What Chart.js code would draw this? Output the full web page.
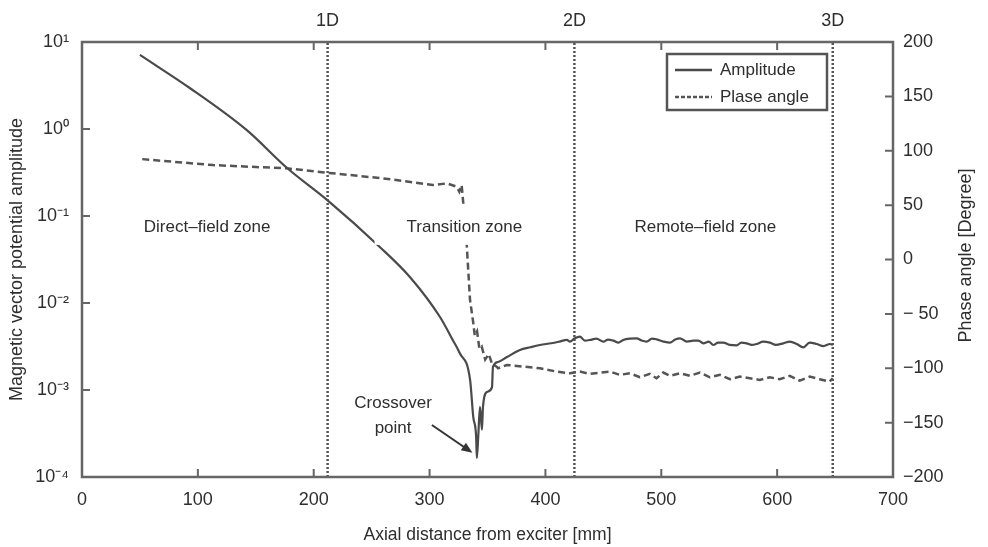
<!DOCTYPE html>
<html>
<head>
<meta charset="utf-8">
<title>Amplitude and phase along the tube axis</title>
<script src="https://cdn.jsdelivr.net/npm/chart.js@4.4.1/dist/chart.umd.min.js"></script>
<style>
  html, body { margin: 0; padding: 0; background: #fff; }
</style>
</head>
<body>
<canvas id="chart" width="988" height="547"></canvas>
<script>
// axial distance [mm] and vector potential amplitude
const ampX = [50, 93, 142, 177, 211.5, 257, 283, 309, 320, 326, 335, 337.7, 340.2, 340.8,
  342, 343.5, 345.2, 346.1, 349.6, 353.9, 354.7, 359.1, 366.8, 378, 387, 395.3, 405, 412, 418.6,
  421.2, 425, 429.8, 434, 438.5, 444, 450, 454, 458.6, 463, 467.2, 473, 478.8, 483, 487.4, 492,
  496, 502, 507.5, 512, 516.1, 522, 527.6, 532, 536.3, 541, 544.9, 549, 553.5, 559, 565.1, 569,
  573.7, 578, 582.3, 588, 593.8, 599, 605.3, 611, 616.9, 622.6, 628, 634.1, 640, 645.6, 648];
const ampY = [7.1, 2.96, 0.975, 0.356, 0.153, 0.0441, 0.0199, 0.0069, 0.00376, 0.00266, 0.0013,
  0.00049, 0.000288, 0.000165, 0.00029, 0.00064, 0.00035, 0.00064, 0.00095, 0.00108, 0.00184,
  0.0021, 0.00239, 0.00288, 0.0031, 0.00329, 0.00345, 0.0036, 0.00376,
  0.0036, 0.0039, 0.0041, 0.0037, 0.00376, 0.0039, 0.0036, 0.0038, 0.00369, 0.0035, 0.00376,
  0.0039, 0.00393, 0.0037, 0.0036, 0.0039, 0.00382, 0.0036, 0.0035, 0.0038, 0.00393, 0.0036,
  0.00369, 0.0037, 0.00344, 0.0036, 0.00329, 0.0035, 0.0035, 0.0033, 0.00326, 0.0035,
  0.00344, 0.0033, 0.00338, 0.0036, 0.0035, 0.0033, 0.00344, 0.0036, 0.00338, 0.00309, 0.0035,
  0.00338, 0.0032, 0.00338, 0.0033];

// axial distance [mm] and phase angle [deg]
const phaseX = [52, 113, 177, 211.5, 260, 303, 315, 323.4, 325.7, 327.7, 329.1, 332, 334.9,
  337.7, 339, 341, 343, 345, 348, 351, 354, 357.9, 359.2, 366.6, 381, 395.3, 409.7,
  421.2, 429.8, 438.5, 447.1, 455.7, 464.3, 472.9, 481.5, 490.1, 495.9, 501.7, 507.5, 516.1,
  524.7, 533.3, 541.9, 550.6, 559.2, 567.8, 576.4, 585, 593.6, 602.2, 610.9, 619.5, 628.1,
  636.7, 645.3, 648];
const phaseY = [92.3, 86.8, 83.8, 79.8, 74.6, 68.5, 70, 66.9, 62.3, 68.5, 51.6, 14.9, -37.2,
  -58, -70, -66, -82, -80, -92, -87, -96, -98.5, -100, -97, -98.5, -100, -103.1,
  -104.6, -103.1, -105.2, -104, -103.1, -106.1, -104.6, -108.3, -105.2, -109.2, -104, -107,
  -104.6, -107, -104, -108.3, -106.1, -110.1, -107.7, -109.2, -110.7, -108.3, -110.1, -107,
  -111.4, -107.7, -110.1, -112.3, -109.2];

// reference distances 1D, 2D, 3D
const markerX = [212, 425, 648];
const markerLabels = ['1D', '2D', '3D'];

const xTicks = [0, 100, 200, 300, 400, 500, 600, 700];
const logTicks = [1e-4, 1e-3, 1e-2, 1e-1, 1, 10];
const logLabels = ['10⁻⁴', '10⁻³', '10⁻²', '10⁻¹', '10⁰', '10¹'];
const phaseTicks = [-200, -150, -100, -50, 0, 50, 100, 150, 200];
const phaseLabels = ['−200', '−150', '−100', '− 50', '0', '50', '100', '150', '200'];

const zones = ['Direct–field zone', 'Transition zone', 'Remote–field zone'];
const zoneX = [108, 330, 538];
const zoneLevel = 30;          // phase-axis height of the zone captions

const FONT = '"Liberation Sans", Arial, sans-serif';
const INK = '#2e2e2e';
Chart.defaults.font.family = FONT;
Chart.defaults.color = INK;

function fixTicks(values) {
  return scale => { scale.ticks = values.map(v => ({ value: v })); };
}

const annotate = {
  id: 'annotate',
  beforeDraw(chart) {
    const ctx = chart.ctx;
    ctx.save();
    ctx.fillStyle = '#fff';
    ctx.fillRect(0, 0, chart.width, chart.height);
    ctx.restore();
  },
  afterDatasetsDraw(chart) {
    const { ctx, chartArea: a, scales } = chart;
    const sx = scales.x, sy = scales.y, sp = scales.y1;
    ctx.save();

    // zone captions sit on opaque boxes
    ctx.font = '17px ' + FONT;
    ctx.textAlign = 'center';
    ctx.textBaseline = 'middle';
    zones.forEach((t, i) => {
      const cx = sx.getPixelForValue(zoneX[i]);
      const cy = sp.getPixelForValue(zoneLevel);
      const w = ctx.measureText(t).width;
      ctx.fillStyle = '#fff';
      ctx.fillRect(cx - w / 2 - 32, cy - 22, w + 64, 40);
      ctx.fillStyle = INK;
      ctx.fillText(t, cx, cy);
    });

    // frame
    ctx.strokeStyle = '#666';
    ctx.lineWidth = 2.5;
    ctx.strokeRect(a.left, a.top, a.right - a.left, a.bottom - a.top);

    // inward tick marks
    const tl = 8;
    ctx.lineWidth = 2;
    ctx.beginPath();
    xTicks.slice(1, -1).forEach(v => {
      const px = sx.getPixelForValue(v);
      ctx.moveTo(px, a.bottom); ctx.lineTo(px, a.bottom - tl);
      ctx.moveTo(px, a.top); ctx.lineTo(px, a.top + tl);
    });
    logTicks.slice(1, -1).forEach(v => {
      const py = sy.getPixelForValue(v);
      ctx.moveTo(a.left, py); ctx.lineTo(a.left + tl, py);
    });
    phaseTicks.slice(1, -1).forEach(v => {
      const py = sp.getPixelForValue(v);
      ctx.moveTo(a.right, py); ctx.lineTo(a.right - tl, py);
    });
    ctx.stroke();

    // legend box
    const ds = chart.data.datasets;
    const lx = a.right - 226, ly = a.top + 12, lw = 160, lh = 56;
    ctx.fillStyle = '#fff';
    ctx.fillRect(lx, ly, lw, lh);
    ctx.strokeStyle = '#555';
    ctx.lineWidth = 2.5;
    ctx.strokeRect(lx, ly, lw, lh);
    ctx.font = '17px ' + FONT;
    ctx.textAlign = 'left';
    [0, 1].forEach(i => {
      const yy = ly + 16 + i * 27;
      ctx.strokeStyle = ds[i].borderColor;
      ctx.lineWidth = 2.5;
      ctx.setLineDash(i === 1 ? [4, 2] : []);
      ctx.beginPath();
      ctx.moveTo(lx + 8, yy); ctx.lineTo(lx + 45, yy);
      ctx.stroke();
      ctx.setLineDash([]);
      ctx.fillStyle = INK;
      ctx.fillText(ds[i].label, lx + 53, yy);
    });

    // crossover callout
    ctx.textAlign = 'center';
    const tx = sx.getPixelForValue(268.5);
    ctx.fillText('Crossover', tx, sy.getPixelForValue(7.1e-4));
    ctx.fillText('point', tx, sy.getPixelForValue(3.66e-4));
    const x0 = sx.getPixelForValue(302), y0 = sy.getPixelForValue(3.96e-4);
    const x1 = sx.getPixelForValue(337), y1 = sy.getPixelForValue(1.9e-4);
    const ang = Math.atan2(y1 - y0, x1 - x0);
    ctx.strokeStyle = '#333';
    ctx.lineWidth = 2;
    ctx.beginPath();
    ctx.moveTo(x0, y0);
    ctx.lineTo(x1 - 8 * Math.cos(ang), y1 - 8 * Math.sin(ang));
    ctx.stroke();
    ctx.fillStyle = '#333';
    ctx.beginPath();
    ctx.moveTo(x1, y1);
    ctx.lineTo(x1 - 11 * Math.cos(ang) + 4.5 * Math.sin(ang), y1 - 11 * Math.sin(ang) - 4.5 * Math.cos(ang));
    ctx.lineTo(x1 - 11 * Math.cos(ang) - 4.5 * Math.sin(ang), y1 - 11 * Math.sin(ang) + 4.5 * Math.cos(ang));
    ctx.closePath();
    ctx.fill();

    // right axis title, reading upwards
    ctx.translate(966, (a.top + a.bottom) / 2 - 4);
    ctx.rotate(-Math.PI / 2);
    ctx.font = '18px ' + FONT;
    ctx.fillStyle = INK;
    ctx.textBaseline = 'middle';
    ctx.fillText('Phase angle [Degree]', 0, 0);
    ctx.restore();
  }
};

const markerSets = markerX.map(v => ({
  label: 'marker',
  data: [{ x: v, y: -200 }, { x: v, y: 200 }],
  yAxisID: 'y1',
  borderColor: '#555',
  borderWidth: 2.5,
  borderDash: [2, 2],
  pointRadius: 0
}));

new Chart(document.getElementById('chart'), {
  type: 'line',
  data: {
    datasets: [
      {
        label: 'Amplitude',
        data: ampX.map((x, i) => ({ x, y: ampY[i] })),
        yAxisID: 'y',
        borderColor: '#4a4a4a',
        borderWidth: 2.2,
        pointRadius: 0,
        cubicInterpolationMode: 'monotone'
      },
      {
        label: 'Plase angle',
        data: phaseX.map((x, i) => ({ x, y: phaseY[i] })),
        yAxisID: 'y1',
        borderColor: '#555',
        borderWidth: 2.5,
        borderDash: [7, 4],
        pointRadius: 0,
        tension: 0
      },
      ...markerSets
    ]
  },
  options: {
    responsive: false,
    devicePixelRatio: 1,
    animation: false,
    layout: { padding: 0 },
    plugins: { legend: { display: false }, tooltip: { enabled: false } },
    scales: {
      x: {
        type: 'linear', position: 'bottom', min: 0, max: 700,
        afterBuildTicks: fixTicks(xTicks),
        afterFit: s => { s.height = 70; },
        grid: { display: false, drawTicks: false },
        border: { display: false },
        ticks: { font: { size: 18 }, padding: 12, maxRotation: 0, autoSkip: false },
        title: {
          display: true, text: 'Axial distance from exciter [mm]',
          font: { size: 17.5 }, padding: { top: 0, bottom: 1 }
        }
      },
      xTop: {
        type: 'linear', position: 'top', min: 0, max: 700,
        afterBuildTicks: fixTicks(markerX),
        afterFit: s => { s.height = 42; },
        grid: { display: false, drawTicks: false },
        border: { display: false },
        ticks: {
          font: { size: 18 }, padding: 10, maxRotation: 0, autoSkip: false,
          callback: (v, i) => markerLabels[i]
        }
      },
      y: {
        type: 'logarithmic', position: 'left', min: 1e-4, max: 10,
        afterBuildTicks: fixTicks(logTicks),
        afterFit: s => { s.width = 82; },
        grid: { display: false, drawTicks: false },
        border: { display: false },
        ticks: { font: { size: 18 }, padding: 13, autoSkip: false, callback: (v, i) => logLabels[i] },
        title: {
          display: true, text: 'Magnetic vector potential amplitude',
          font: { size: 18 }, padding: { top: 6, bottom: 0 }
        }
      },
      y1: {
        type: 'linear', position: 'right', min: -200, max: 200,
        afterBuildTicks: fixTicks(phaseTicks),
        afterFit: s => { s.width = 95; },
        grid: { display: false, drawTicks: false },
        border: { display: false },
        ticks: { font: { size: 18 }, padding: 10, autoSkip: false, callback: (v, i) => phaseLabels[i] }
      }
    }
  },
  plugins: [annotate]
});
</script>
</body>
</html>
